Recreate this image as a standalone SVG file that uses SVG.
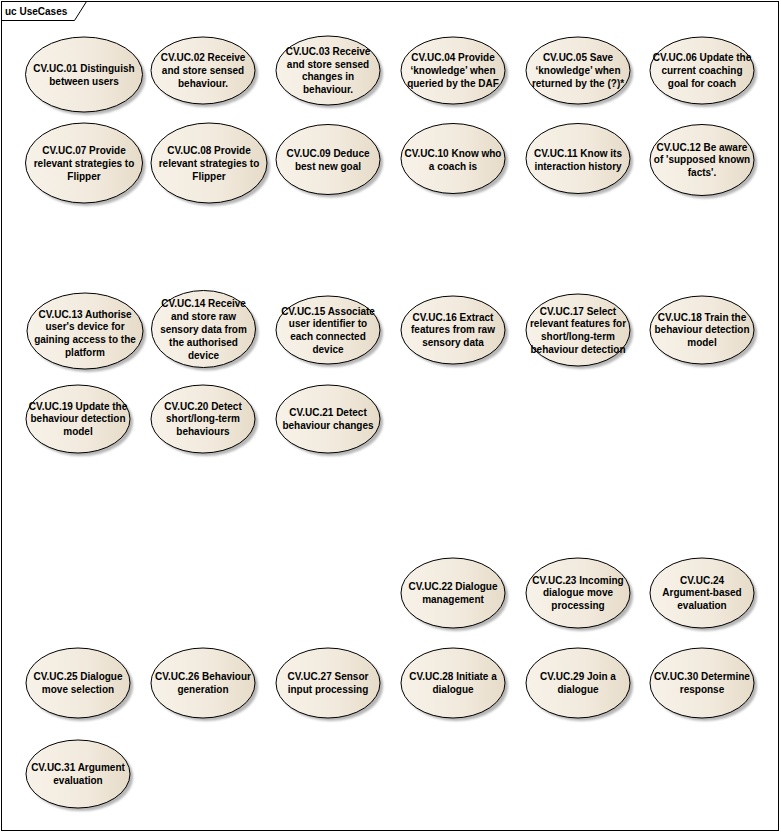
<svg xmlns="http://www.w3.org/2000/svg" width="781" height="833" viewBox="0 0 781 833">
<defs>
<linearGradient id="uf" x1="0" y1="0" x2="1" y2="0">
<stop offset="0" stop-color="#F7F2E9"/>
<stop offset="0.6" stop-color="#F1E9DC"/>
<stop offset="1" stop-color="#E6DBC8"/>
</linearGradient>
<filter id="blur" x="-10%" y="-10%" width="130%" height="130%"><feGaussianBlur stdDeviation="1.3"/></filter>
</defs>
<style>
.frame{fill:#fff;stroke:#000;stroke-width:1}
.sh{fill:#7a7a7a;opacity:0.55;filter:url(#blur)}
.uc{fill:url(#uf);stroke:#000;stroke-width:1}
text{font-family:"Liberation Sans",Arial,sans-serif;font-size:10px;font-weight:bold;fill:#000;text-anchor:middle}
.lbl{text-anchor:start}
</style>
<rect class="frame" x="1.5" y="1.5" width="777" height="829"/>
<g id="frame-label">
<path d="M1.5,20.5 H74.5 L86.5,1.5" fill="none" stroke="#000"/>
<text class="lbl" x="5" y="14.5">uc UseCases</text>
</g>
<g id="connectors"/>

<g id="uc01"><ellipse class="sh" cx="87" cy="77.5" rx="58.5" ry="37.5"/><ellipse class="uc" cx="84" cy="74.5" rx="58.5" ry="37.5"/><text x="84" y="72"><tspan x="84" dy="0">CV.UC.01 Distinguish</tspan><tspan x="84" dy="12.8">between users</tspan></text></g>
<g id="uc02"><ellipse class="sh" cx="206" cy="73.5" rx="52" ry="33.5"/><ellipse class="uc" cx="203" cy="70.5" rx="52" ry="33.5"/><text x="203" y="61.2"><tspan x="203" dy="0">CV.UC.02 Receive</tspan><tspan x="203" dy="12.8">and store sensed</tspan><tspan x="203" dy="12.8">behaviour.</tspan></text></g>
<g id="uc03"><ellipse class="sh" cx="331" cy="73.5" rx="52" ry="34.5"/><ellipse class="uc" cx="328" cy="70.5" rx="52" ry="34.5"/><text x="328" y="55"><tspan x="328" dy="0">CV.UC.03 Receive</tspan><tspan x="328" dy="12.5">and store sensed</tspan><tspan x="328" dy="12.5">changes in</tspan><tspan x="328" dy="12.5">behaviour.</tspan></text></g>
<g id="uc04"><ellipse class="sh" cx="456" cy="73.5" rx="52" ry="33.5"/><ellipse class="uc" cx="453" cy="70.5" rx="52" ry="33.5"/><text x="453" y="61.2"><tspan x="453" dy="0">CV.UC.04 Provide</tspan><tspan x="453" dy="12.8">‘knowledge’ when</tspan><tspan x="453" dy="12.8">queried by the DAF</tspan></text></g>
<g id="uc05"><ellipse class="sh" cx="581" cy="73.5" rx="52" ry="33.5"/><ellipse class="uc" cx="578" cy="70.5" rx="52" ry="33.5"/><text x="578" y="61.2"><tspan x="578" dy="0">CV.UC.05 Save</tspan><tspan x="578" dy="12.8">‘knowledge’ when</tspan><tspan x="578" dy="12.8">returned by the (?)*</tspan></text></g>
<g id="uc06"><ellipse class="sh" cx="705" cy="73.5" rx="52" ry="33.5"/><ellipse class="uc" cx="702" cy="70.5" rx="52" ry="33.5"/><text x="702" y="61.2"><tspan x="702" dy="0">CV.UC.06 Update the</tspan><tspan x="702" dy="12.8">current coaching</tspan><tspan x="702" dy="12.8">goal for coach</tspan></text></g>

<g id="uc07"><ellipse class="sh" cx="87" cy="166" rx="58.5" ry="40"/><ellipse class="uc" cx="84" cy="163" rx="58.5" ry="40"/><text x="84" y="154"><tspan x="84" dy="0">CV.UC.07 Provide</tspan><tspan x="84" dy="13">relevant strategies to</tspan><tspan x="84" dy="13">Flipper</tspan></text></g>
<g id="uc08"><ellipse class="sh" cx="212" cy="166" rx="58" ry="40"/><ellipse class="uc" cx="209" cy="163" rx="58" ry="40"/><text x="209" y="154"><tspan x="209" dy="0">CV.UC.08 Provide</tspan><tspan x="209" dy="13">relevant strategies to</tspan><tspan x="209" dy="13">Flipper</tspan></text></g>
<g id="uc09"><ellipse class="sh" cx="331" cy="162.5" rx="52" ry="35"/><ellipse class="uc" cx="328" cy="159.5" rx="52" ry="35"/><text x="328" y="157"><tspan x="328" dy="0">CV.UC.09 Deduce</tspan><tspan x="328" dy="13">best new goal</tspan></text></g>
<g id="uc10"><ellipse class="sh" cx="456" cy="161.5" rx="52" ry="35"/><ellipse class="uc" cx="453" cy="158.5" rx="52" ry="35"/><text x="453" y="157"><tspan x="453" dy="0">CV.UC.10 Know who</tspan><tspan x="453" dy="13">a coach is</tspan></text></g>
<g id="uc11"><ellipse class="sh" cx="581" cy="161.5" rx="52" ry="35"/><ellipse class="uc" cx="578" cy="158.5" rx="52" ry="35"/><text x="578" y="157"><tspan x="578" dy="0">CV.UC.11 Know its</tspan><tspan x="578" dy="13">interaction history</tspan></text></g>
<g id="uc12"><ellipse class="sh" cx="705" cy="163" rx="52" ry="35.5"/><ellipse class="uc" cx="702" cy="160" rx="52" ry="35.5"/><text x="702" y="150.5"><tspan x="702" dy="0">CV.UC.12 Be aware</tspan><tspan x="702" dy="12.8">of 'supposed known</tspan><tspan x="702" dy="12.8">facts'.</tspan></text></g>

<g id="uc13"><ellipse class="sh" cx="88" cy="334" rx="58" ry="38"/><ellipse class="uc" cx="85" cy="331" rx="58" ry="38"/><text x="85" y="317.5"><tspan x="85" dy="0">CV.UC.13 Authorise</tspan><tspan x="85" dy="12.8">user's device for</tspan><tspan x="85" dy="12.8">gaining access to the</tspan><tspan x="85" dy="12.8">platform</tspan></text></g>
<g id="uc14"><ellipse class="sh" cx="206.5" cy="332" rx="52" ry="38.5"/><ellipse class="uc" cx="203.5" cy="329" rx="52" ry="38.5"/><text x="203.5" y="306.5"><tspan x="203.5" dy="0">CV.UC.14 Receive</tspan><tspan x="203.5" dy="13">and store raw</tspan><tspan x="203.5" dy="13">sensory data from</tspan><tspan x="203.5" dy="13">the authorised</tspan><tspan x="203.5" dy="13">device</tspan></text></g>
<g id="uc15"><ellipse class="sh" cx="331" cy="333" rx="52" ry="34"/><ellipse class="uc" cx="328" cy="330" rx="52" ry="34"/><text x="328" y="314.5"><tspan x="328" dy="0">CV.UC.15 Associate</tspan><tspan x="328" dy="12.8">user identifier to</tspan><tspan x="328" dy="12.8">each connected</tspan><tspan x="328" dy="12.8">device</tspan></text></g>
<g id="uc16"><ellipse class="sh" cx="456" cy="333" rx="52" ry="34"/><ellipse class="uc" cx="453" cy="330" rx="52" ry="34"/><text x="453" y="320.5"><tspan x="453" dy="0">CV.UC.16 Extract</tspan><tspan x="453" dy="12.8">features from raw</tspan><tspan x="453" dy="12.8">sensory data</tspan></text></g>
<g id="uc17"><ellipse class="sh" cx="581" cy="333" rx="52" ry="36"/><ellipse class="uc" cx="578" cy="330" rx="52" ry="36"/><text x="578" y="314.5"><tspan x="578" dy="0">CV.UC.17 Select</tspan><tspan x="578" dy="12.8">relevant features for</tspan><tspan x="578" dy="12.8">short/long-term</tspan><tspan x="578" dy="12.8">behaviour detection</tspan></text></g>
<g id="uc18"><ellipse class="sh" cx="705" cy="333" rx="52" ry="34"/><ellipse class="uc" cx="702" cy="330" rx="52" ry="34"/><text x="702" y="320.5"><tspan x="702" dy="0">CV.UC.18 Train the</tspan><tspan x="702" dy="12.8">behaviour detection</tspan><tspan x="702" dy="12.8">model</tspan></text></g>

<g id="uc19"><ellipse class="sh" cx="81" cy="422" rx="52" ry="34"/><ellipse class="uc" cx="78" cy="419" rx="52" ry="34"/><text x="78" y="409.5"><tspan x="78" dy="0">CV.UC.19 Update the</tspan><tspan x="78" dy="12.8">behaviour detection</tspan><tspan x="78" dy="12.8">model</tspan></text></g>
<g id="uc20"><ellipse class="sh" cx="206" cy="422" rx="52" ry="34"/><ellipse class="uc" cx="203" cy="419" rx="52" ry="34"/><text x="203" y="409.5"><tspan x="203" dy="0">CV.UC.20 Detect</tspan><tspan x="203" dy="12.8">short/long-term</tspan><tspan x="203" dy="12.8">behaviours</tspan></text></g>
<g id="uc21"><ellipse class="sh" cx="331" cy="422" rx="52" ry="34"/><ellipse class="uc" cx="328" cy="419" rx="52" ry="34"/><text x="328" y="416"><tspan x="328" dy="0">CV.UC.21 Detect</tspan><tspan x="328" dy="13">behaviour changes</tspan></text></g>

<g id="uc22"><ellipse class="sh" cx="456" cy="596" rx="52" ry="35"/><ellipse class="uc" cx="453" cy="593" rx="52" ry="35"/><text x="453" y="590"><tspan x="453" dy="0">CV.UC.22 Dialogue</tspan><tspan x="453" dy="13">management</tspan></text></g>
<g id="uc23"><ellipse class="sh" cx="581" cy="596" rx="52" ry="35"/><ellipse class="uc" cx="578" cy="593" rx="52" ry="35"/><text x="578" y="583.5"><tspan x="578" dy="0">CV.UC.23 Incoming</tspan><tspan x="578" dy="12.8">dialogue move</tspan><tspan x="578" dy="12.8">processing</tspan></text></g>
<g id="uc24"><ellipse class="sh" cx="705" cy="596" rx="52" ry="35"/><ellipse class="uc" cx="702" cy="593" rx="52" ry="35"/><text x="702" y="583.5"><tspan x="702" dy="0">CV.UC.24</tspan><tspan x="702" dy="12.8">Argument-based</tspan><tspan x="702" dy="12.8">evaluation</tspan></text></g>

<g id="uc25"><ellipse class="sh" cx="81" cy="686" rx="52" ry="35"/><ellipse class="uc" cx="78" cy="683" rx="52" ry="35"/><text x="78" y="680"><tspan x="78" dy="0">CV.UC.25 Dialogue</tspan><tspan x="78" dy="13">move selection</tspan></text></g>
<g id="uc26"><ellipse class="sh" cx="206" cy="686" rx="52" ry="35"/><ellipse class="uc" cx="203" cy="683" rx="52" ry="35"/><text x="203" y="680"><tspan x="203" dy="0">CV.UC.26 Behaviour</tspan><tspan x="203" dy="13">generation</tspan></text></g>
<g id="uc27"><ellipse class="sh" cx="331" cy="686" rx="52" ry="35"/><ellipse class="uc" cx="328" cy="683" rx="52" ry="35"/><text x="328" y="680"><tspan x="328" dy="0">CV.UC.27 Sensor</tspan><tspan x="328" dy="13">input processing</tspan></text></g>
<g id="uc28"><ellipse class="sh" cx="456" cy="686" rx="52" ry="35"/><ellipse class="uc" cx="453" cy="683" rx="52" ry="35"/><text x="453" y="680"><tspan x="453" dy="0">CV.UC.28 Initiate a</tspan><tspan x="453" dy="13">dialogue</tspan></text></g>
<g id="uc29"><ellipse class="sh" cx="581" cy="686" rx="52" ry="35"/><ellipse class="uc" cx="578" cy="683" rx="52" ry="35"/><text x="578" y="680"><tspan x="578" dy="0">CV.UC.29 Join a</tspan><tspan x="578" dy="13">dialogue</tspan></text></g>
<g id="uc30"><ellipse class="sh" cx="705" cy="686" rx="52" ry="35"/><ellipse class="uc" cx="702" cy="683" rx="52" ry="35"/><text x="702" y="680"><tspan x="702" dy="0">CV.UC.30 Determine</tspan><tspan x="702" dy="13">response</tspan></text></g>

<g id="uc31"><ellipse class="sh" cx="81" cy="777" rx="52" ry="34"/><ellipse class="uc" cx="78" cy="774" rx="52" ry="34"/><text x="78" y="771"><tspan x="78" dy="0">CV.UC.31 Argument</tspan><tspan x="78" dy="13">evaluation</tspan></text></g>
</svg>
